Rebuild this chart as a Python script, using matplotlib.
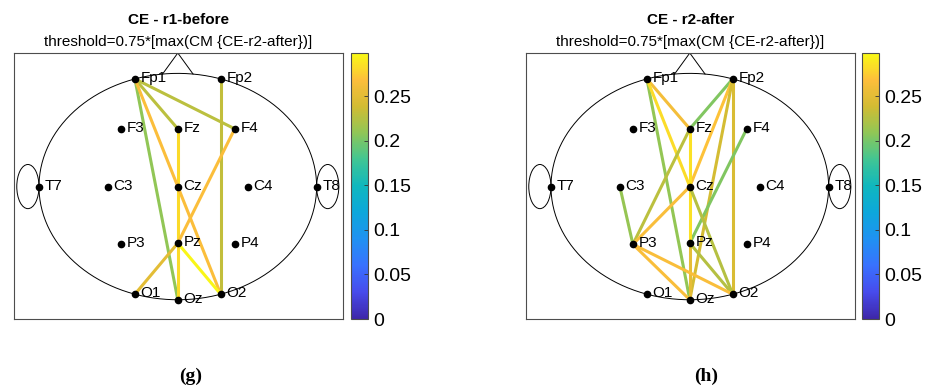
import matplotlib
matplotlib.use('Agg')
import matplotlib.pyplot as plt
import numpy as np
from matplotlib.colors import LinearSegmentedColormap, Normalize
from matplotlib.patches import Ellipse
import matplotlib.cm as cm

plt.rcParams['font.family'] = ['Liberation Sans', 'DejaVu Sans']

# electrode layout (head centre at 0,0, head radius 1)
electrodes = {
    'Fp1': (-0.309, 0.951), 'Fp2': (0.309, 0.951),
    'F3': (-0.41, 0.51), 'Fz': (0.0, 0.51), 'F4': (0.41, 0.51),
    'T7': (-1.0, 0.0), 'C3': (-0.504, 0.0), 'Cz': (0.0, 0.0),
    'C4': (0.504, 0.0), 'T8': (1.0, 0.0),
    'P3': (-0.41, -0.51), 'Pz': (0.0, -0.50), 'P4': (0.41, -0.51),
    'O1': (-0.309, -0.951), 'Oz': (0.0, -1.0), 'O2': (0.309, -0.951),
}

titles = ['CE - r1-before', 'CE - r2-after']
subtitle = 'threshold=0.75*[max(CM {CE-r2-after})]'
captions = ['(g)', '(h)']

# connections above threshold: (from, to, strength)
links_before = [
    ('Fp1', 'Oz', 0.209),
    ('Fp1', 'Fz', 0.228),
    ('Fp1', 'F4', 0.228),
    ('Fp2', 'O2', 0.232),
    ('Fz', 'Oz', 0.282),
    ('Fp1', 'Cz', 0.267),
    ('Cz', 'O2', 0.267),
    ('F4', 'Pz', 0.266),
    ('Pz', 'O1', 0.250),
    ('Pz', 'O2', 0.296),
]

links_after = [
    ('Fp1', 'Oz', 0.210),
    ('Fp1', 'Fz', 0.262),
    ('Fp1', 'Cz', 0.283),
    ('Fp2', 'Fz', 0.203),
    ('Fp2', 'Cz', 0.270),
    ('Fp2', 'Oz', 0.240),
    ('Fp2', 'O2', 0.243),
    ('F4', 'Pz', 0.203),
    ('Fz', 'P3', 0.228),
    ('Fz', 'Pz', 0.285),
    ('Pz', 'Oz', 0.252),
    ('C3', 'P3', 0.212),
    ('Cz', 'P3', 0.265),
    ('Cz', 'O2', 0.226),
    ('Pz', 'O2', 0.226),
    ('P3', 'Oz', 0.265),
    ('P3', 'O2', 0.265),
]

cbar_max = 0.2985
cbar_ticks = [0, 0.05, 0.1, 0.15, 0.2, 0.25]
cbar_labels = ['0', '0.05', '0.1', '0.15', '0.2', '0.25']

parula_pts = [
    (0.2422, 0.1504, 0.6603), (0.2786, 0.2944, 0.9248), (0.2227, 0.4442, 0.9988),
    (0.1252, 0.5698, 0.9498), (0.0504, 0.6557, 0.8580), (0.0594, 0.7179, 0.7456),
    (0.2542, 0.7742, 0.5786), (0.5617, 0.7785, 0.3391), (0.8245, 0.7363, 0.1994),
    (0.9926, 0.7454, 0.2339), (0.9769, 0.9839, 0.0805),
]
parula = LinearSegmentedColormap.from_list('parula', parula_pts)
norm = Normalize(0, cbar_max)


def draw_head(ax, links, title):
    t = np.linspace(0, 2 * np.pi, 400)
    ax.plot(np.cos(t), np.sin(t), color='k', lw=0.7)
    ax.plot([-0.11, 0, 0.11], [0.994, 1.18, 0.994], color='k', lw=0.7)
    for sx in (-1, 1):
        ax.add_patch(Ellipse((sx * 1.08, 0), 0.16, 0.39, fill=False, ec='k', lw=0.7))
    for a, b, v in links:
        xa, ya = electrodes[a]
        xb, yb = electrodes[b]
        ax.plot([xa, xb], [ya, yb], color=parula(norm(v)), lw=2.2,
                solid_capstyle='butt', zorder=3)
    for name, (x, y) in electrodes.items():
        ax.plot(x, y, 'o', color='k', ms=4.5, zorder=4)
        ax.annotate(name, (x, y), xytext=(4.2, -2.3), textcoords='offset points',
                    fontsize=11, va='baseline', ha='left', zorder=5)
    ax.set_xlim(-1.18, 1.19)
    ax.set_ylim(-1.17, 1.18)
    ax.set_xticks([])
    ax.set_yticks([])
    for s in ax.spines.values():
        s.set_color('0.3')
        s.set_linewidth(0.8)
    ax.text(0.5, 1.124, title, transform=ax.transAxes, ha='center', va='center',
            fontsize=11, fontweight='bold')
    ax.text(0.5, 1.041, subtitle, transform=ax.transAxes, ha='center', va='center',
            fontsize=11)


fig = plt.figure(figsize=(9.3, 3.92), dpi=100)
W, H = 930.0, 392.0
panels = [(14, 351, 191, links_before), (526, 862, 706, links_after)]
for (x0, cx0, capx, links), title, cap in zip(panels, titles, captions):
    ax = fig.add_axes([x0 / W, 1 - 319 / H, 329 / W, 266 / H])
    draw_head(ax, links, title)
    fig.text(capx / W, 1 - 376 / H, cap, ha='center', va='center',
             fontsize=14, fontweight='bold', family='Liberation Serif')
    cax = fig.add_axes([cx0 / W, 1 - 319 / H, 17 / W, 266 / H])
    sm = cm.ScalarMappable(norm=norm, cmap=parula)
    cb = fig.colorbar(sm, cax=cax)
    cb.set_ticks(cbar_ticks)
    cb.set_ticklabels(cbar_labels)
    cb.ax.tick_params(direction='in', length=3, width=0.6, labelsize=14,
                      color='0.2', pad=4)
    cb.outline.set_edgecolor('0.3')
    cb.outline.set_linewidth(0.8)

fig.savefig('out.png', dpi=100)
